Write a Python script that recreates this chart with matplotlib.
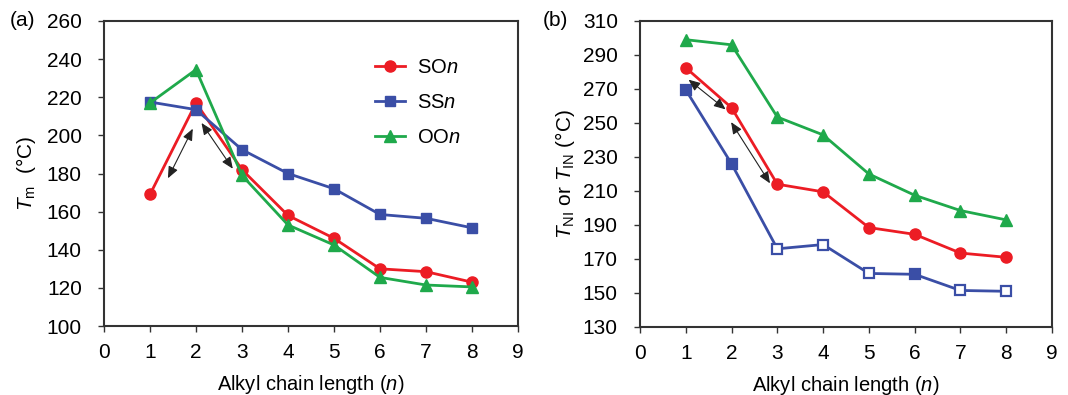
import numpy as np
import matplotlib
matplotlib.use("Agg")
import matplotlib.pyplot as plt

plt.rcParams["font.family"] = ["Liberation Sans", "DejaVu Sans"]
plt.rcParams["mathtext.fontset"] = "custom"
plt.rcParams["mathtext.rm"] = "Liberation Sans"
plt.rcParams["mathtext.it"] = "Liberation Sans:italic"

n = [1, 2, 3, 4, 5, 6, 7, 8]

# (a) melting points
tm_so = [169, 217, 182, 158, 146, 130, 128.5, 123]
tm_ss = [217.5, 213.5, 192.5, 180, 172, 158.5, 156.5, 151.5]
tm_oo = [217, 234.5, 179, 153, 142.5, 125.5, 121.5, 120.5]

# (b) clearing points
tni_so = [282.5, 259, 214, 209.5, 188.5, 184.5, 173.5, 171]
tni_ss = [269.5, 226, 176, 178.5, 161.5, 161, 151.5, 151]
tni_oo = [299, 296, 253.5, 243, 220, 207.5, 198.5, 193]
ss_filled = [True, True, False, False, False, True, False, False]

red = "#ec1c24"
blue = "#3a4ea6"
green = "#1fa94b"

fig = plt.figure(figsize=(10.68, 3.95), dpi=100)
ax1 = fig.add_axes([104 / 1068, 69 / 395, 414 / 1068, 305 / 395])
ax2 = fig.add_axes([640 / 1068, 68 / 395, 412 / 1068, 306 / 395])

lw = 2
ax1.plot(n, tm_so, "-o", color=red, lw=lw, ms=8, label="SO$n$")
ax1.plot(n, tm_ss, "-s", color=blue, lw=lw, ms=7.5, label="SS$n$")
ax1.plot(n, tm_oo, "-^", color=green, lw=lw, ms=8, label="OO$n$")

ax2.plot(n, tni_oo, "-^", color=green, lw=lw, ms=8)
ax2.plot(n, tni_so, "-o", color=red, lw=lw, ms=8)
ax2.plot(n, tni_ss, "-", color=blue, lw=lw)
for x, y, f in zip(n, tni_ss, ss_filled):
    ax2.plot(x, y, "s", color=blue, ms=7.5, mew=1.6,
             mfc=blue if f else "white")

arrow = dict(arrowstyle="<|-|>,head_length=0.7,head_width=0.3",
             color="#222222", lw=0.8, shrinkA=0, shrinkB=0)
ax1.annotate("", xy=(1.39, 177.5), xytext=(1.93, 203.5), arrowprops=arrow)
ax1.annotate("", xy=(2.12, 206.5), xytext=(2.80, 182.5), arrowprops=arrow)
ax2.annotate("", xy=(1.06, 275.5), xytext=(1.87, 258), arrowprops=arrow)
ax2.annotate("", xy=(1.99, 250.5), xytext=(2.84, 214.5), arrowprops=arrow)

ax1.set_xlim(0, 9)
ax1.set_ylim(100, 260)
ax1.set_yticks(np.arange(100, 261, 20))
ax2.set_xlim(0, 9)
ax2.set_ylim(130, 310)
ax2.set_yticks(np.arange(130, 311, 20))

for ax in (ax1, ax2):
    ax.set_xticks(range(0, 10))
    ax.tick_params(labelsize=15, direction="out", length=4, width=1,
                   color="#333333")
    ax.tick_params(axis="y", pad=12)
    ax.tick_params(axis="x", pad=8)
    for s in ax.spines.values():
        s.set_linewidth(1.5)
        s.set_color("#333333")
    ax.set_xlabel("Alkyl chain length ($n$)", fontsize=14.5, labelpad=8)

ax1.set_ylabel("$T_\\mathrm{m}$  (°C)", fontsize=15, labelpad=6)
ax2.set_ylabel("$T_\\mathrm{NI}$ or $T_\\mathrm{IN}$ (°C)", fontsize=15,
               labelpad=4)

fig.text(10 / 1068, 374 / 395, "(a)", fontsize=15, va="center")
fig.text(543 / 1068, 374 / 395, "(b)", fontsize=15, va="center")

ax1.legend(loc="upper left", bbox_to_anchor=(0.655, 0.878), frameon=False,
           fontsize=14.5, handlelength=1.5, labelspacing=0.78,
           handletextpad=0.6, borderpad=0, borderaxespad=0)

fig.savefig("out.png", dpi=100)
